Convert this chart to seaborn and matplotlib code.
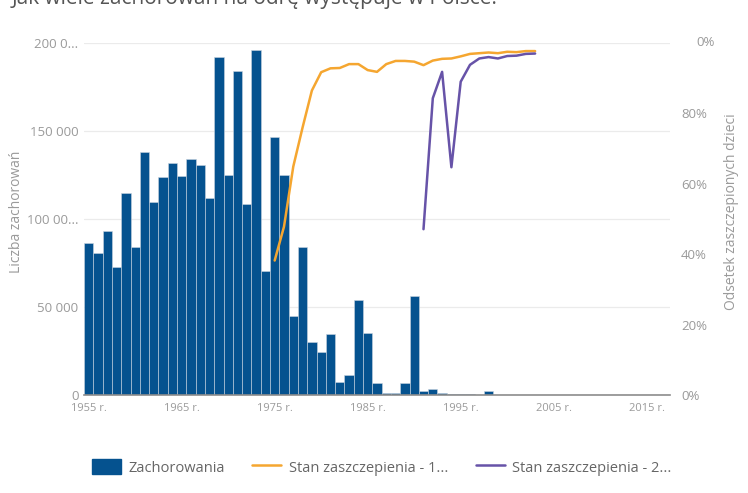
import matplotlib
matplotlib.use("Agg")
import matplotlib.pyplot as plt
import seaborn as sns
import pandas as pd
from matplotlib.patches import Patch
from matplotlib.lines import Line2D

years = list(range(1955, 2018))
cases = [86500, 80500, 93400, 72900, 115000, 84300, 137900, 109800, 124000, 131600,
         124400, 134300, 130900, 111700, 192200, 125200, 183900, 108500, 196000, 70600,
         146800, 125200, 44900, 83900, 30300, 24600, 34700, 7400, 11200, 54000,
         35400, 7000, 1300, 1000, 7000, 56300, 2500, 3600, 1300, 600,
         500, 300, 200, 2300, 200, 80, 140, 40, 50, 130,
         14, 120, 40, 115, 114, 13, 38, 70, 84, 110,
         48, 133, 63]

dose1_years = list(range(1975, 2004))
dose1 = [38.2, 47.8, 64.9, 76.0, 86.5, 91.7, 92.8, 92.9, 94.0, 94.0,
         92.3, 91.8, 94.0, 94.9, 94.9, 94.7, 93.7, 95.0, 95.5, 95.6,
         96.2, 96.9, 97.1, 97.3, 97.1, 97.5, 97.4, 97.7, 97.7]

dose2_years = list(range(1991, 2004))
dose2 = [47.1, 84.3, 91.8, 64.7, 89.0, 93.8, 95.6, 96.0, 95.6, 96.3, 96.4, 96.9, 97.0]

left_ticks = [0, 50000, 100000, 150000, 200000]
left_labels = ["0", "50 000", "100 00...", "150 000", "200 0..."]
right_ticks = [0, 20, 40, 60, 80, 100]
right_labels = ["0%", "20%", "40%", "60%", "80%", ""]
xtick_years = [1955, 1965, 1975, 1985, 1995, 2005, 2015]

BLUE = "#05528f"
ORANGE = "#f5a630"
PURPLE = "#6753a8"
GREY = "#9a9a9a"

sns.set_style("white")
plt.rcParams["font.family"] = ["Open Sans", "DejaVu Sans"]

df = pd.DataFrame({"rok": years, "zachorowania": cases})
d1 = pd.DataFrame({"rok": dose1_years, "proc": dose1})
d2 = pd.DataFrame({"rok": dose2_years, "proc": dose2})

fig = plt.figure(figsize=(7.48, 4.93), dpi=100)
ax = fig.add_axes([0.1123, 0.1988, 0.7834, 0.714])

sns.barplot(data=df, x="rok", y="zachorowania", native_scale=True, width=1.0,
            color=BLUE, saturation=1, edgecolor="#c9d4e0", linewidth=0.4, ax=ax)
ax.set_xlim(1954.5, 2017.5)
ax.set_ylim(0, 200000)
ax.set_yticks(left_ticks)
ax.set_yticklabels(left_labels)
ax.set_xticks(xtick_years)
ax.set_xticklabels([f"{y} r." for y in xtick_years])
ax.tick_params(axis="y", length=0, labelsize=9.5, labelcolor=GREY, pad=4)
ax.tick_params(axis="x", length=0, labelsize=8, labelcolor=GREY, pad=6)
ax.yaxis.grid(True, color="#ebebeb", linewidth=0.9)
ax.set_axisbelow(True)
ax.set_xlabel("")
ax.set_ylabel("Liczba zachorowań", color=GREY, fontsize=10)
ax.yaxis.set_label_coords(-0.102, 0.52)
for s in ["top", "right", "left"]:
    ax.spines[s].set_visible(False)
ax.spines["bottom"].set_color("#8c8c8c")
ax.spines["bottom"].set_linewidth(1.2)

ax2 = ax.twinx()
sns.lineplot(data=d1, x="rok", y="proc", color=ORANGE, linewidth=1.8, ax=ax2)
sns.lineplot(data=d2, x="rok", y="proc", color=PURPLE, linewidth=1.8, ax=ax2)
ax2.set_ylim(0, 100)
ax2.set_yticks(right_ticks)
ax2.set_yticklabels(right_labels)
ax2.tick_params(axis="y", length=0, labelsize=9.5, labelcolor=GREY, pad=8)
ax2.set_ylabel("Odsetek zaszczepionych dzieci", color=GREY, fontsize=10)
ax2.yaxis.set_label_coords(1.092, 0.52)
ax2.set_xlabel("")
for s in ax2.spines.values():
    s.set_visible(False)
ax2.text(1.045, 1.0, "0%", transform=ax2.transAxes, fontsize=9.5, color=GREY,
         ha="left", va="center")

fig.text(0.016, 1 - 4 / 493, "Jak wiele zachorowań na odrę występuje w Polsce.",
         fontsize=15, color="#555555", ha="left", va="baseline")

handles = [Patch(facecolor=BLUE, edgecolor=BLUE),
           Line2D([0], [0], color=ORANGE, linewidth=1.8),
           Line2D([0], [0], color=PURPLE, linewidth=1.8)]
labels = ["Zachorowania", "Stan zaszczepienia - 1...", "Stan zaszczepienia - 2..."]
fig.legend(handles, labels, loc="center left", bbox_to_anchor=(0.105, 0.052),
           ncol=3, frameon=False, fontsize=10.5, labelcolor="#666666",
           handlelength=2.0, handleheight=1.2, columnspacing=1.9, handletextpad=0.5)

fig.savefig("out.png", dpi=100)
